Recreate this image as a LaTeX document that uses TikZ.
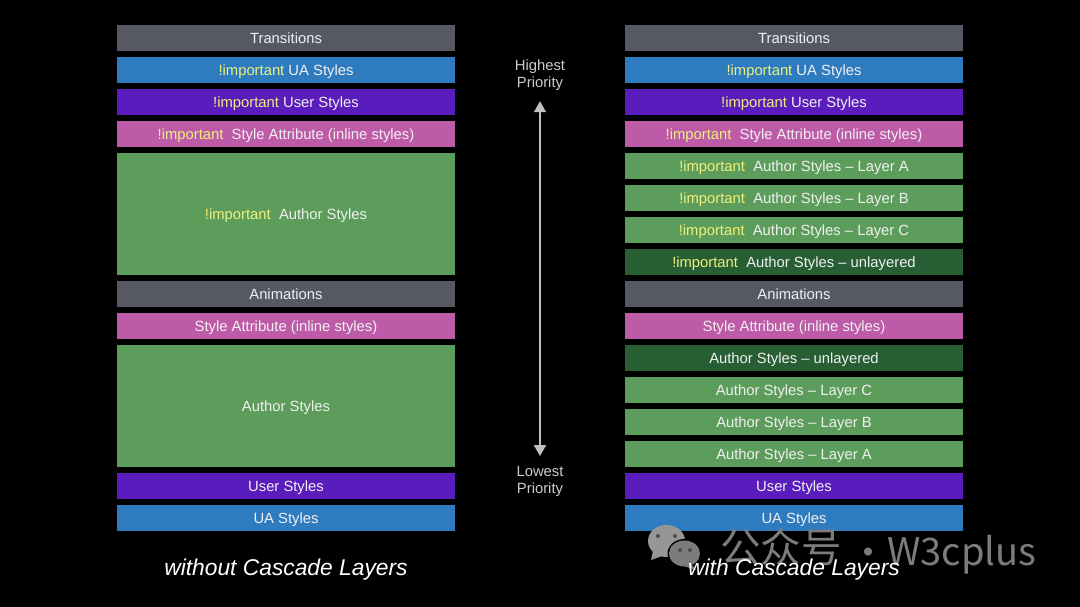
\documentclass[tikz,border=0pt]{standalone}
\usepackage{xcolor}
\usepackage{fontspec}
\setmainfont{Liberation Sans}
\newfontfamily\cjkfont{Noto Sans CJK SC}
\usetikzlibrary{arrows.meta}

\definecolor{slategrey}{HTML}{565864}
\definecolor{uablue}{HTML}{2E7CBF}
\definecolor{userpurple}{HTML}{5A1CBC}
\definecolor{inlinepink}{HTML}{BD5BA8}
\definecolor{authorgreen}{HTML}{5C9D5C}
\definecolor{unlayeredgreen}{HTML}{275E34}
\definecolor{impyellow}{HTML}{EEF07C}
\definecolor{bartext}{HTML}{F0F0F0}
\definecolor{lightlabel}{HTML}{CCCCCC}
\definecolor{arrowgrey}{HTML}{C0C0C0}
\definecolor{markgrey}{HTML}{7C7C7C}
\newcommand{\imp}{\textcolor{impyellow}{!important}}

\tikzset{
  bar/.style={inner sep=0pt, minimum width=338pt, minimum height=26.5pt, text=bartext,
    text height=10.2pt, text depth=0pt, font=\fontsize{14.8}{17}\selectfont},
  prio/.style={inner sep=0pt, align=center, text=lightlabel, font=\fontsize{14.8}{17}\selectfont},
  caption/.style={inner sep=0pt, text=white, text height=16pt, text depth=0pt,
    font=\fontsize{22.8}{27}\selectfont\itshape},
  wmark/.style={inner sep=0pt, text=markgrey, text height=28pt, text depth=0pt,
    font=\fontsize{38}{44}\selectfont\cjkfont},
}

\begin{document}
\begin{tikzpicture}[x=1pt,y=-1pt]
\useasboundingbox (0,0) rectangle (1080,607);
\fill [black] (0,0) rectangle (1080,607);

% left column
\foreach \y/\c/\t in {38/slategrey/Transitions,
    70/uablue/\imp{} UA Styles,
    102/userpurple/\imp{} User Styles,
    134/inlinepink/\imp\ \ Style Attribute (inline styles),
    294/slategrey/Animations,
    326/inlinepink/Style Attribute (inline styles),
    486/userpurple/User Styles,
    518/uablue/UA Styles}
  \node [bar, fill=\c] (left\y) at (286,\y) {\t};
\node [bar, fill=authorgreen, minimum height=122.5pt] (leftimp) at (286,214) {\imp\ \ Author Styles};
\node [bar, fill=authorgreen, minimum height=122.5pt] (leftauthor) at (286,406) {Author Styles};

% right column
\foreach \y/\c/\t in {38/slategrey/Transitions,
    70/uablue/\imp{} UA Styles,
    102/userpurple/\imp{} User Styles,
    134/inlinepink/\imp\ \ Style Attribute (inline styles),
    166/authorgreen/\imp\ \ Author Styles -- Layer A,
    198/authorgreen/\imp\ \ Author Styles -- Layer B,
    230/authorgreen/\imp\ \ Author Styles -- Layer C,
    262/unlayeredgreen/\imp\ \ Author Styles -- unlayered,
    294/slategrey/Animations,
    326/inlinepink/Style Attribute (inline styles),
    358/unlayeredgreen/Author Styles -- unlayered,
    390/authorgreen/Author Styles -- Layer C,
    422/authorgreen/Author Styles -- Layer B,
    454/authorgreen/Author Styles -- Layer A,
    486/userpurple/User Styles,
    518/uablue/UA Styles}
  \node [bar, fill=\c] (right\y) at (794,\y) {\t};

% priority arrow
\node [prio] (highest) at (540,75.5) {Highest\\Priority};
\node [prio] (lowest) at (540,481.5) {Lowest\\Priority};
\draw [arrowgrey, line width=2.8pt, {Triangle[width=11.5pt,length=11pt]}-{Triangle[width=11.5pt,length=11pt]},
  shorten >=10pt, shorten <=10pt] (highest) -- (lowest);

% watermark
\fill [markgrey!80!white] (666.5,541) ellipse (18.5 and 16);
\fill [markgrey!80!white] (653,551) -- (651,560) -- (662,556) -- cycle;
\fill [black] (684.5,553.5) ellipse (17 and 14.5);
\fill [markgrey] (684.5,553.5) ellipse (15.5 and 13);
\fill [markgrey] (691,564) -- (696,570) -- (684,566) -- cycle;
\foreach \x/\y in {658/536,675/536,680/550,690/550}
  \fill [black!70] (\x,\y) circle (2);
\node [wmark, font=\fontsize{40.5}{44}\selectfont\cjkfont] (wcjk) at (781,548) {公众号};
\node [wmark] (wdot) at (868,552) {·};
\node [wmark] (wlatin) at (962,551) {W3cplus};

\node [caption] (capwithout) at (286,567) {without Cascade Layers};
\node [caption] (capwith) at (794,567) {with Cascade Layers};
\end{tikzpicture}
\end{document}
